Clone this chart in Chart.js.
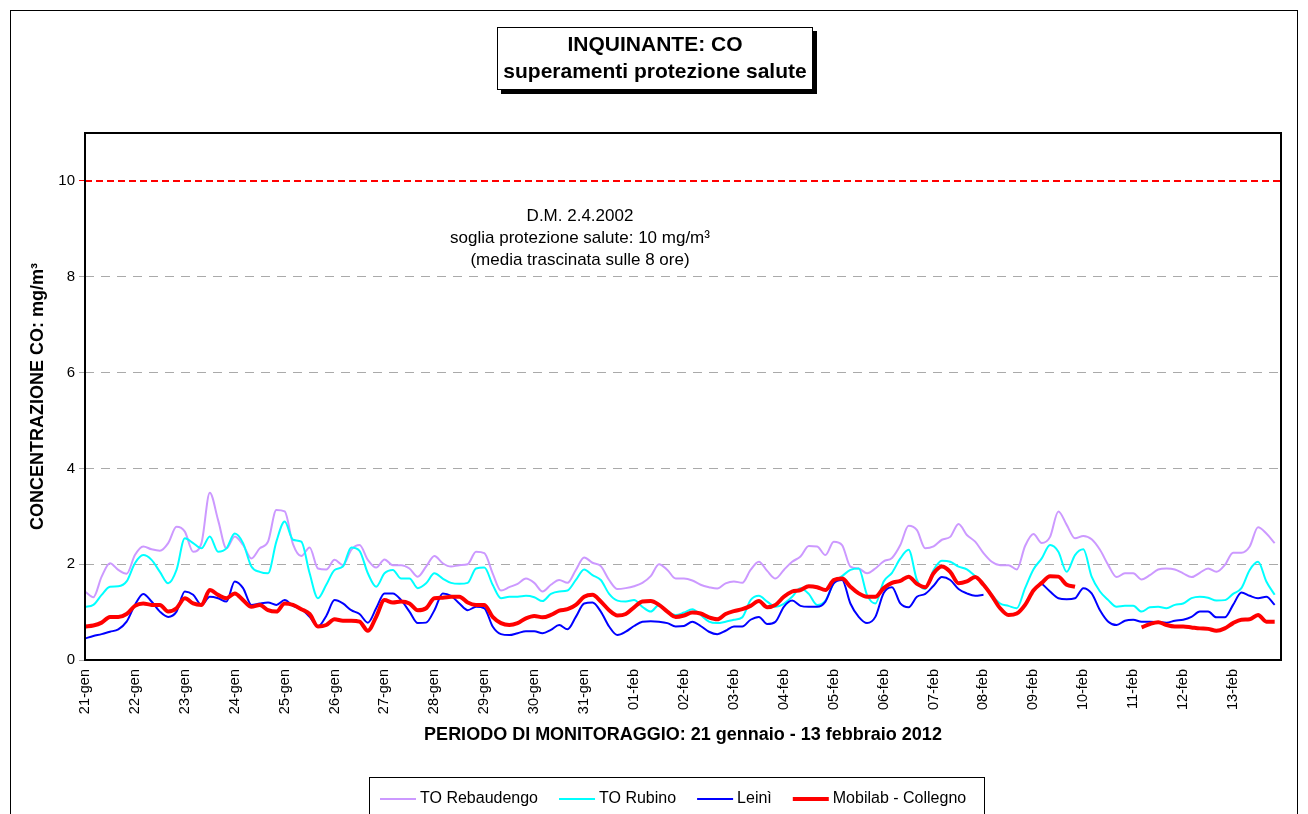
<!DOCTYPE html>
<html lang="it">
<head>
<meta charset="utf-8">
<title>INQUINANTE: CO - superamenti protezione salute</title>
<script src="https://cdn.jsdelivr.net/npm/chart.js@4.4.1/dist/chart.umd.min.js"></script>
<style>
  html, body { margin: 0; padding: 0; background: #fff; }
  #wrap { position: relative; width: 1308px; height: 814px; overflow: hidden; }
</style>
</head>
<body>
<div id="wrap"><canvas id="grafico" width="1308" height="814"></canvas></div>
<script>
// --- Dati (un valore ogni 4 ore, dal 21 gennaio al 13 febbraio 2012) ---
const giorni = [
    '21-gen', '22-gen', '23-gen', '24-gen', '25-gen', '26-gen', '27-gen', '28-gen',
    '29-gen', '30-gen', '31-gen', '01-feb', '02-feb', '03-feb', '04-feb', '05-feb',
    '06-feb', '07-feb', '08-feb', '09-feb', '10-feb', '11-feb', '12-feb', '13-feb'
];
const puntiAlGiorno = 6;
const fineAsse = 23.96;
const soglia = 10;
const yTicks = [0, 2, 4, 6, 8, 10];

const rebaudengo = [
    1.43, 1.31, 1.74, 2.02, 1.88, 1.80, 2.19, 2.37, 2.31, 2.28, 2.44, 2.78, 2.68, 2.26, 2.44, 3.49, 2.92, 2.33, 2.58, 2.40, 2.12, 2.33, 2.47, 3.13,
    3.10, 2.42, 2.17, 2.35, 1.91, 1.89, 2.09, 1.98, 2.30, 2.40, 2.09, 1.93, 2.10, 1.98, 1.98, 1.91, 1.74, 1.95, 2.17, 2.02, 1.95, 1.98, 2.00, 2.26,
    2.23, 1.81, 1.45, 1.52, 1.59, 1.70, 1.61, 1.43, 1.57, 1.67, 1.61, 1.88, 2.14, 2.03, 1.96, 1.67, 1.48, 1.50, 1.54, 1.61, 1.75, 2.00, 1.88, 1.70,
    1.70, 1.66, 1.57, 1.52, 1.49, 1.60, 1.64, 1.61, 1.88, 2.05, 1.86, 1.70, 1.88, 2.05, 2.16, 2.38, 2.37, 2.19, 2.47, 2.40, 1.95, 1.91, 1.81, 1.91,
    2.06, 2.13, 2.40, 2.80, 2.71, 2.33, 2.37, 2.51, 2.57, 2.84, 2.61, 2.47, 2.23, 2.05, 1.98, 1.98, 1.89, 2.38, 2.63, 2.44, 2.57, 3.10, 2.82, 2.54,
    2.59, 2.52, 2.30, 1.98, 1.73, 1.81, 1.81, 1.68, 1.77, 1.89, 1.91, 1.89, 1.81, 1.73, 1.82, 1.91, 1.84, 1.98, 2.24, 2.24, 2.37, 2.77, 2.64, 2.44
];
const rubino = [
    1.11, 1.15, 1.36, 1.53, 1.54, 1.64, 2.02, 2.19, 2.09, 1.84, 1.60, 1.88, 2.54, 2.44, 2.33, 2.58, 2.26, 2.33, 2.64, 2.44, 1.95, 1.84, 1.81, 2.47,
    2.89, 2.51, 2.47, 1.81, 1.29, 1.57, 1.88, 1.95, 2.35, 2.28, 1.81, 1.53, 1.81, 1.88, 1.70, 1.70, 1.50, 1.60, 1.81, 1.70, 1.61, 1.59, 1.61, 1.91,
    1.93, 1.57, 1.29, 1.32, 1.32, 1.34, 1.31, 1.23, 1.38, 1.43, 1.45, 1.67, 1.89, 1.77, 1.67, 1.38, 1.24, 1.22, 1.25, 1.11, 1.01, 1.15, 1.01, 0.94,
    0.99, 1.06, 0.94, 0.80, 0.77, 0.80, 0.84, 0.89, 1.25, 1.34, 1.22, 1.11, 1.17, 1.32, 1.50, 1.38, 1.15, 1.24, 1.61, 1.75, 1.88, 1.91, 1.36, 1.18,
    1.64, 1.82, 2.12, 2.30, 1.67, 1.48, 1.88, 2.07, 2.05, 1.95, 1.89, 1.75, 1.60, 1.36, 1.18, 1.13, 1.08, 1.50, 1.89, 2.12, 2.40, 2.26, 1.84, 2.19,
    2.31, 1.74, 1.43, 1.25, 1.11, 1.13, 1.13, 1.01, 1.10, 1.11, 1.08, 1.15, 1.18, 1.29, 1.32, 1.30, 1.24, 1.25, 1.38, 1.50, 1.88, 2.05, 1.64, 1.36
];
const leini = [
    0.45, 0.50, 0.54, 0.59, 0.64, 0.80, 1.15, 1.38, 1.22, 1.01, 0.90, 1.01, 1.43, 1.36, 1.15, 1.32, 1.29, 1.22, 1.64, 1.50, 1.15, 1.18, 1.20, 1.15,
    1.25, 1.13, 1.06, 0.90, 0.70, 0.92, 1.25, 1.18, 1.04, 0.96, 0.78, 1.08, 1.39, 1.39, 1.25, 1.01, 0.77, 0.78, 1.04, 1.39, 1.34, 1.18, 1.04, 1.11,
    1.08, 0.70, 0.54, 0.52, 0.56, 0.60, 0.60, 0.56, 0.63, 0.73, 0.64, 0.90, 1.18, 1.20, 1.01, 0.70, 0.52, 0.59, 0.71, 0.80, 0.81, 0.80, 0.77, 0.70,
    0.71, 0.80, 0.71, 0.59, 0.54, 0.61, 0.70, 0.70, 0.84, 0.90, 0.75, 0.80, 1.11, 1.24, 1.13, 1.11, 1.11, 1.22, 1.60, 1.67, 1.18, 0.90, 0.77, 0.90,
    1.40, 1.52, 1.18, 1.10, 1.32, 1.38, 1.55, 1.73, 1.67, 1.48, 1.39, 1.34, 1.36, null, null, null, null, null, null, 1.60, 1.43, 1.29, 1.27, 1.29,
    1.50, 1.39, 1.04, 0.80, 0.73, 0.82, 0.84, 0.80, 0.80, 0.79, 0.78, 0.82, 0.84, 0.90, 1.01, 1.01, 0.89, 0.89, 1.15, 1.41, 1.34, 1.29, 1.32, 1.15
];
const mobilab = [
    0.70, 0.72, 0.78, 0.90, 0.90, 0.96, 1.13, 1.18, 1.15, 1.15, 1.01, 1.08, 1.29, 1.18, 1.15, 1.46, 1.36, 1.29, 1.39, 1.25, 1.11, 1.15, 1.04, 1.01,
    1.18, 1.15, 1.06, 0.96, 0.70, 0.73, 0.85, 0.82, 0.82, 0.80, 0.61, 0.90, 1.25, 1.20, 1.22, 1.18, 1.04, 1.08, 1.29, 1.30, 1.32, 1.32, 1.20, 1.15,
    1.15, 0.90, 0.77, 0.73, 0.77, 0.87, 0.92, 0.89, 0.94, 1.03, 1.06, 1.15, 1.32, 1.36, 1.22, 1.04, 0.93, 0.96, 1.10, 1.22, 1.23, 1.15, 1.01, 0.90,
    0.93, 0.99, 0.97, 0.89, 0.85, 0.96, 1.02, 1.06, 1.13, 1.23, 1.10, 1.15, 1.32, 1.43, 1.46, 1.54, 1.52, 1.46, 1.67, 1.70, 1.53, 1.39, 1.32, 1.32,
    1.50, 1.61, 1.65, 1.74, 1.59, 1.52, 1.81, 1.95, 1.84, 1.60, 1.64, 1.73, 1.57, 1.34, 1.08, 0.94, 0.97, 1.15, 1.45, 1.61, 1.75, 1.74, 1.57, 1.53,
    null, null, null, null, null, null, null, 0.68, 0.75, 0.79, 0.73, 0.70, 0.70, 0.68, 0.66, 0.65, 0.61, 0.66, 0.77, 0.84, 0.85, 0.94, 0.80, 0.80
];

document.addEventListener('DOMContentLoaded', function () {
    const FONT = "'Liberation Sans', Arial, sans-serif";
    Chart.defaults.font.family = FONT;
    Chart.defaults.color = '#000';

    // valori -> punti {x in giorni, y}
    function punti(valori) {
        return valori.map((v, i) => ({ x: i / puntiAlGiorno, y: v }));
    }

    function serie(label, valori, colore, spessore, ordine) {
        return {
            label: label,
            data: punti(valori),
            borderColor: colore,
            backgroundColor: colore,
            borderWidth: spessore,
            pointRadius: 0,
            cubicInterpolationMode: 'monotone',
            spanGaps: false,
            order: ordine
        };
    }

    // --- Plugin: cornici, titolo, nota e legenda ---
    const decorazioni = {
        id: 'decorazioni',
        beforeDraw(chart) {
            const ctx = chart.ctx;
            ctx.save();
            ctx.fillStyle = '#fff';
            ctx.fillRect(0, 0, chart.width, chart.height);
            ctx.restore();
        },
        afterDraw(chart) {
            const ctx = chart.ctx;
            const area = chart.chartArea;
            ctx.save();

            // cornice esterna
            ctx.strokeStyle = '#000';
            ctx.lineWidth = 1;
            ctx.strokeRect(10.5, 10.5, 1287, 820);

            // bordo area del grafico
            ctx.lineWidth = 2;
            ctx.strokeRect(area.left, area.top, area.right - area.left, area.bottom - area.top);

            // riquadro del titolo con ombra
            ctx.fillStyle = '#000';
            ctx.fillRect(501, 31, 316, 63);
            ctx.fillStyle = '#fff';
            ctx.fillRect(497, 27, 316, 63);
            ctx.lineWidth = 1;
            ctx.strokeRect(497.5, 27.5, 315, 62);
            ctx.fillStyle = '#000';
            ctx.textAlign = 'center';
            ctx.textBaseline = 'middle';
            ctx.font = 'bold 21px ' + FONT;
            ctx.fillText('INQUINANTE: CO', 655, 45);
            ctx.fillText('superamenti protezione salute', 655, 72);

            // nota sulla soglia
            ctx.font = '17px ' + FONT;
            ctx.fillText('D.M. 2.4.2002', 580, 216);
            ctx.fillText('soglia protezione salute: 10 mg/m\u00b3', 580, 238);
            ctx.fillText('(media trascinata sulle 8 ore)', 580, 260);

            // legenda
            ctx.lineWidth = 1;
            ctx.strokeRect(369.5, 777.5, 615, 60);
            ctx.font = '16px ' + FONT;
            ctx.textAlign = 'left';
            let x = 380;
            const y = 799;
            chart.data.datasets.filter(ds => ds.legenda !== false).forEach(ds => {
                ctx.strokeStyle = ds.borderColor;
                ctx.lineWidth = ds.borderWidth;
                ctx.beginPath();
                ctx.moveTo(x, y);
                ctx.lineTo(x + 36, y);
                ctx.stroke();
                ctx.fillStyle = '#000';
                ctx.fillText(ds.label, x + 40, y);
                x += 40 + ctx.measureText(ds.label).width + 21;
            });

            ctx.restore();
        }
    };

    const sogliaDs = {
        label: 'soglia',
        legenda: false,
        data: [{ x: 0, y: soglia }, { x: fineAsse, y: soglia }],
        borderColor: '#ff0000',
        borderWidth: 2,
        borderDash: [7, 4],
        pointRadius: 0,
        order: 0
    };

    const grafico = new Chart(document.getElementById('grafico'), {
        type: 'line',
        data: {
            datasets: [
                serie('TO Rebaudengo', rebaudengo, '#cc99ff', 2, 4),
                serie('TO Rubino', rubino, '#00ffff', 2, 3),
                serie('Lein\u00ec', leini, '#0000ff', 2, 2),
                serie('Mobilab - Collegno', mobilab, '#ff0000', 4, 1),
                sogliaDs
            ]
        },
        options: {
            responsive: false,
            animation: false,
            devicePixelRatio: 1,
            layout: { padding: { left: 20, top: 133, right: 27, bottom: 54 } },
            plugins: {
                legend: { display: false },
                tooltip: { enabled: false }
            },
            scales: {
                x: {
                    type: 'linear',
                    min: 0,
                    max: fineAsse,
                    afterFit(scale) { scale.height = 100; },
                    grid: { display: false, drawTicks: false },
                    border: { display: false },
                    ticks: {
                        stepSize: 1,
                        includeBounds: false,
                        autoSkip: false,
                        minRotation: 90,
                        maxRotation: 90,
                        padding: 9,
                        font: { size: 14.5 },
                        callback: v => giorni[v] || ''
                    },
                    title: {
                        display: true,
                        text: 'PERIODO DI MONITORAGGIO: 21 gennaio - 13 febbraio 2012',
                        font: { size: 18, weight: 'bold' },
                        padding: { top: 0, bottom: 14 }
                    }
                },
                y: {
                    min: 0,
                    max: 11,
                    afterFit(scale) { scale.width = 65; },
                    afterBuildTicks(scale) { scale.ticks = yTicks.map(v => ({ value: v })); },
                    grid: {
                        color: ctx => (ctx.tick.value > 0 && ctx.tick.value < soglia) ? '#aaaaaa' : 'rgba(0,0,0,0)',
                        tickColor: ctx => ctx.tick.value === soglia ? '#ff0000' : '#aaaaaa',
                        tickLength: 6,
                        lineWidth: 1
                    },
                    border: { display: false, dash: [9, 7] },
                    ticks: {
                        padding: 4,
                        font: { size: 15 }
                    },
                    title: {
                        display: true,
                        text: 'CONCENTRAZIONE CO: mg/m\u00b3',
                        font: { size: 18, weight: 'bold' },
                        padding: { top: 7, bottom: 0 }
                    }
                }
            }
        },
        plugins: [decorazioni]
    });
});
</script>
</body>
</html>
